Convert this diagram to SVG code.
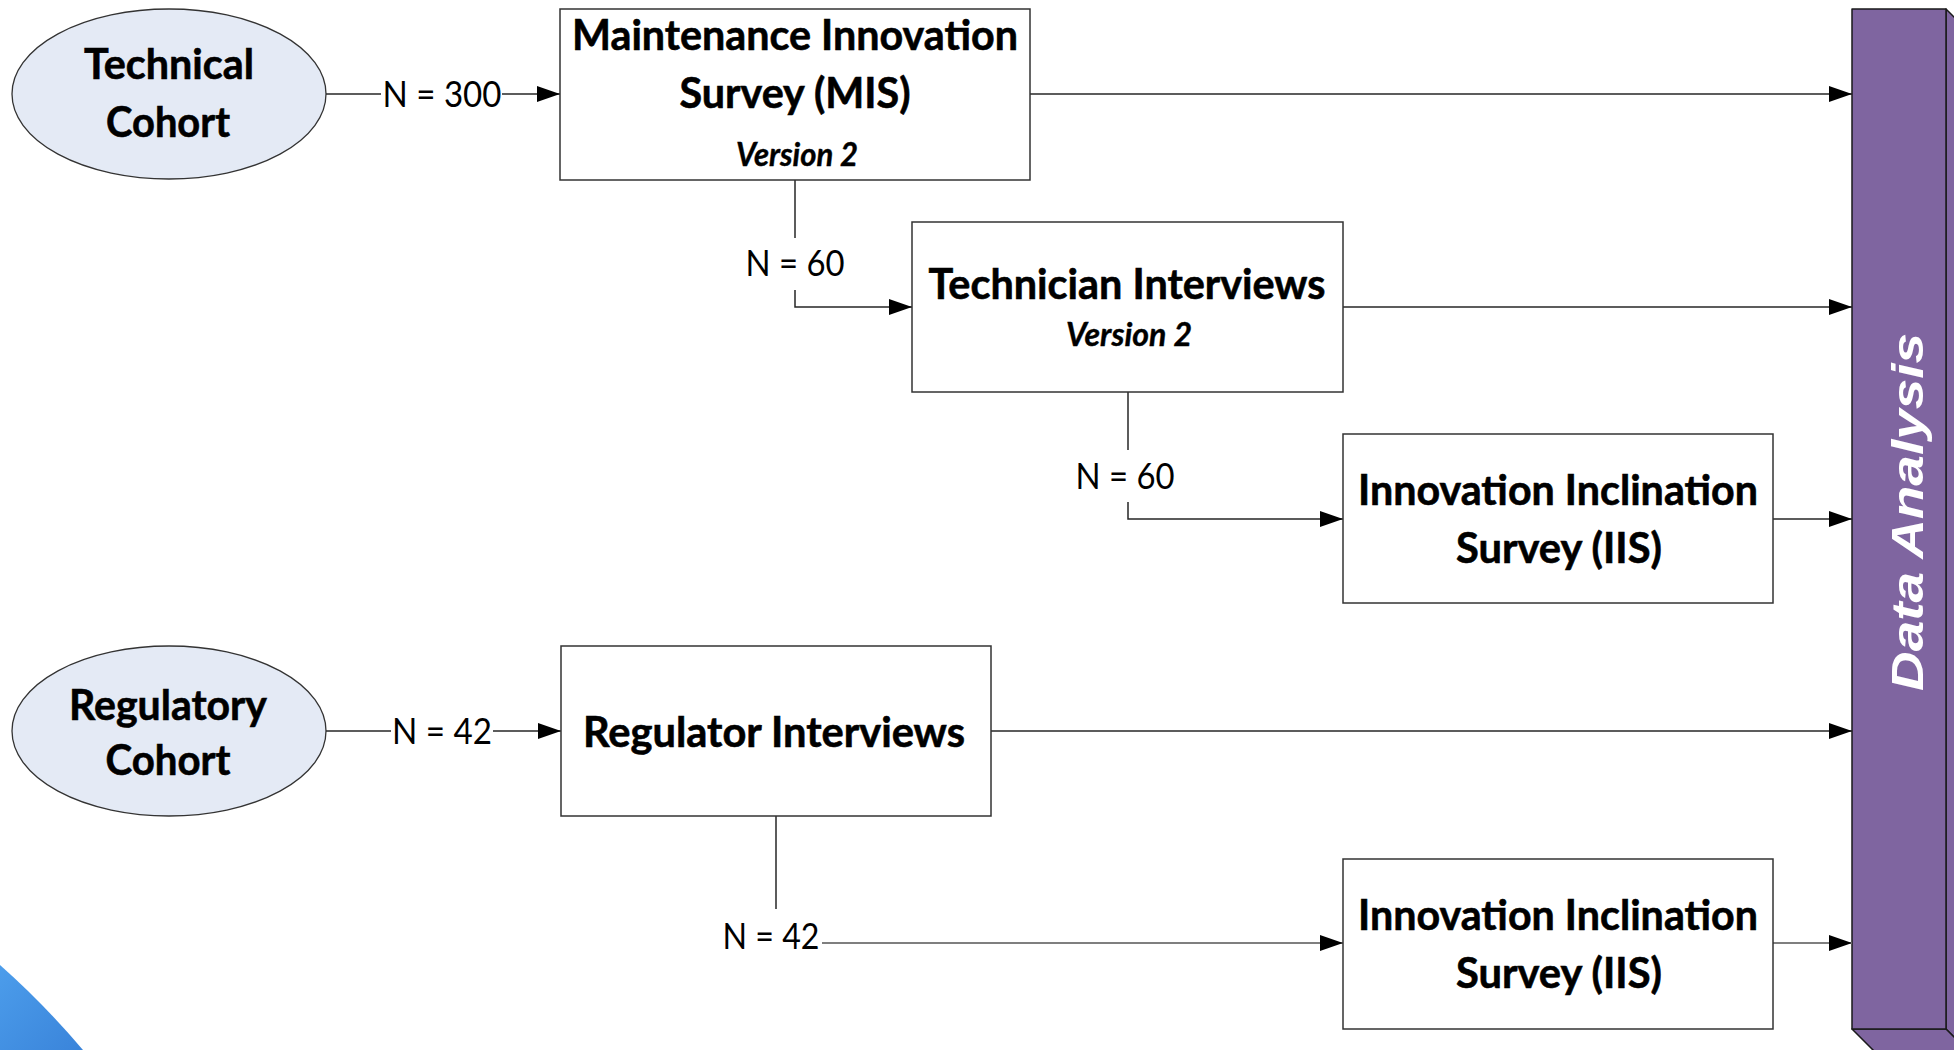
<svg xmlns="http://www.w3.org/2000/svg" width="1954" height="1050" viewBox="0 0 1954 1050">
  <style>
    .box { fill: #ffffff; stroke: #333333; stroke-width: 1.5; }
    .cohort { fill: #e4eaf5; stroke: #333333; stroke-width: 1.3; }
    .bar { fill: #7f65a0; stroke: #1a1a1a; stroke-width: 1.5; stroke-linejoin: round; }
    .lbl { font-family: Lato, "Liberation Sans", sans-serif; font-weight: 700; font-size: 42px; text-anchor: middle; fill: #000000; stroke: #000000; stroke-width: 0.6; }
    .ver { font-family: Lato, "Liberation Sans", sans-serif; font-weight: 700; font-style: italic; font-size: 32px; text-anchor: middle; fill: #000000; stroke: #000000; stroke-width: 0.4; }
    .n { font-family: Lato, "Liberation Sans", sans-serif; font-weight: 400; font-size: 37px; text-anchor: middle; fill: #000000; }
    .da { font-family: "Liberation Sans", Arial, sans-serif; font-weight: 700; font-style: italic; font-size: 45px; text-anchor: middle; fill: #ffffff; }
    .wire { fill: none; stroke: #262626; stroke-width: 1.5; }
    .wire-grey { fill: none; stroke: #7f7f7f; stroke-width: 2; }
  </style>
  <defs>
    <marker id="arrow" markerUnits="userSpaceOnUse" markerWidth="23" markerHeight="16" refX="23" refY="8" orient="auto">
      <path d="M0,0 L23,8 L0,16 Z" fill="#000000"/>
    </marker>
    <linearGradient id="cornerBlue" x1="0" y1="0" x2="1" y2="1">
      <stop offset="0" stop-color="#4c9deb"/>
      <stop offset="1" stop-color="#3a84da"/>
    </linearGradient>
  </defs>

  <!-- decorative corner swoosh -->
  <path d="M0,965 Q44,1004 83,1050 L0,1050 Z" fill="url(#cornerBlue)"/>

  <!-- Data Analysis column (extruded block) -->
  <g id="data-analysis">
    <polygon class="bar" points="1946,9 1976,39 1976,1059 1946,1029"/>
    <polygon class="bar" points="1852,1029 1946,1029 1976,1059 1882,1059"/>
    <rect class="bar" x="1852" y="9" width="94" height="1020"/>
    <text class="da" transform="translate(1923,512) rotate(-90)" x="0" y="0" textLength="358" lengthAdjust="spacingAndGlyphs">Data Analysis</text>
  </g>

  <!-- connectors -->
  <g id="connectors">
    <!-- Technical Cohort -> MIS -->
    <line class="wire" x1="326" y1="94" x2="381" y2="94"/>
    <line class="wire" x1="502" y1="94" x2="560" y2="94" marker-end="url(#arrow)"/>
    <!-- MIS -> Data Analysis -->
    <line class="wire" x1="1030" y1="94" x2="1852" y2="94" marker-end="url(#arrow)"/>
    <!-- MIS -> Technician Interviews -->
    <line class="wire" x1="795" y1="180" x2="795" y2="238"/>
    <polyline class="wire" points="795,290 795,307 912,307" marker-end="url(#arrow)"/>
    <!-- Technician Interviews -> Data Analysis -->
    <line class="wire" x1="1343" y1="307" x2="1852" y2="307" marker-end="url(#arrow)"/>
    <!-- Technician Interviews -> IIS (technical) -->
    <line class="wire" x1="1128" y1="392" x2="1128" y2="450"/>
    <polyline class="wire" points="1128,502 1128,519 1343,519" marker-end="url(#arrow)"/>
    <!-- IIS (technical) -> Data Analysis -->
    <line class="wire" x1="1773" y1="519" x2="1852" y2="519" marker-end="url(#arrow)"/>
    <!-- Regulatory Cohort -> Regulator Interviews -->
    <line class="wire" x1="326" y1="731" x2="391" y2="731"/>
    <line class="wire" x1="493" y1="731" x2="561" y2="731" marker-end="url(#arrow)"/>
    <!-- Regulator Interviews -> Data Analysis -->
    <line class="wire" x1="991" y1="731" x2="1852" y2="731" marker-end="url(#arrow)"/>
    <!-- Regulator Interviews -> IIS (regulatory) -->
    <line class="wire" x1="776" y1="816" x2="776" y2="909"/>
    <line class="wire-grey" x1="822" y1="943" x2="1343" y2="943" marker-end="url(#arrow)"/>
    <!-- IIS (regulatory) -> Data Analysis -->
    <line class="wire-grey" x1="1773" y1="943" x2="1852" y2="943" marker-end="url(#arrow)"/>

    <text class="n" x="442" y="107" textLength="119" lengthAdjust="spacingAndGlyphs">N = 300</text>
    <text class="n" x="795" y="276" textLength="99" lengthAdjust="spacingAndGlyphs">N = 60</text>
    <text class="n" x="1125" y="489" textLength="99" lengthAdjust="spacingAndGlyphs">N = 60</text>
    <text class="n" x="442" y="744" textLength="100" lengthAdjust="spacingAndGlyphs">N = 42</text>
    <text class="n" x="771" y="949" textLength="97" lengthAdjust="spacingAndGlyphs">N = 42</text>
  </g>

  <!-- cohorts -->
  <g id="technical-cohort">
    <ellipse class="cohort" cx="169" cy="94" rx="157" ry="85"/>
    <text class="lbl" x="169" y="79" textLength="170" lengthAdjust="spacingAndGlyphs">Technical</text>
    <text class="lbl" x="168" y="137" textLength="124" lengthAdjust="spacingAndGlyphs">Cohort</text>
  </g>
  <g id="regulatory-cohort">
    <ellipse class="cohort" cx="169" cy="731" rx="157" ry="85"/>
    <text class="lbl" x="168" y="720" textLength="198" lengthAdjust="spacingAndGlyphs">Regulatory</text>
    <text class="lbl" x="168" y="775" textLength="125" lengthAdjust="spacingAndGlyphs">Cohort</text>
  </g>

  <!-- instruments -->
  <g id="mis">
    <rect class="box" x="560" y="9" width="470" height="171"/>
    <text class="lbl" x="795" y="50" textLength="446" lengthAdjust="spacingAndGlyphs">Maintenance Innovation</text>
    <text class="lbl" x="795" y="108" textLength="231" lengthAdjust="spacingAndGlyphs">Survey (MIS)</text>
    <text class="ver" x="797" y="166" textLength="122" lengthAdjust="spacingAndGlyphs">Version 2</text>
  </g>
  <g id="technician-interviews">
    <rect class="box" x="912" y="222" width="431" height="170"/>
    <text class="lbl" x="1127" y="299" textLength="397" lengthAdjust="spacingAndGlyphs">Technician Interviews</text>
    <text class="ver" x="1129" y="346" textLength="126" lengthAdjust="spacingAndGlyphs">Version 2</text>
  </g>
  <g id="iis-technical">
    <rect class="box" x="1343" y="434" width="430" height="169"/>
    <text class="lbl" x="1558" y="505" textLength="400" lengthAdjust="spacingAndGlyphs">Innovation Inclination</text>
    <text class="lbl" x="1559" y="563" textLength="206" lengthAdjust="spacingAndGlyphs">Survey (IIS)</text>
  </g>
  <g id="regulator-interviews">
    <rect class="box" x="561" y="646" width="430" height="170"/>
    <text class="lbl" x="774" y="747" textLength="382" lengthAdjust="spacingAndGlyphs">Regulator Interviews</text>
  </g>
  <g id="iis-regulatory">
    <rect class="box" x="1343" y="859" width="430" height="170"/>
    <text class="lbl" x="1558" y="930" textLength="400" lengthAdjust="spacingAndGlyphs">Innovation Inclination</text>
    <text class="lbl" x="1559" y="988" textLength="206" lengthAdjust="spacingAndGlyphs">Survey (IIS)</text>
  </g>
</svg>
